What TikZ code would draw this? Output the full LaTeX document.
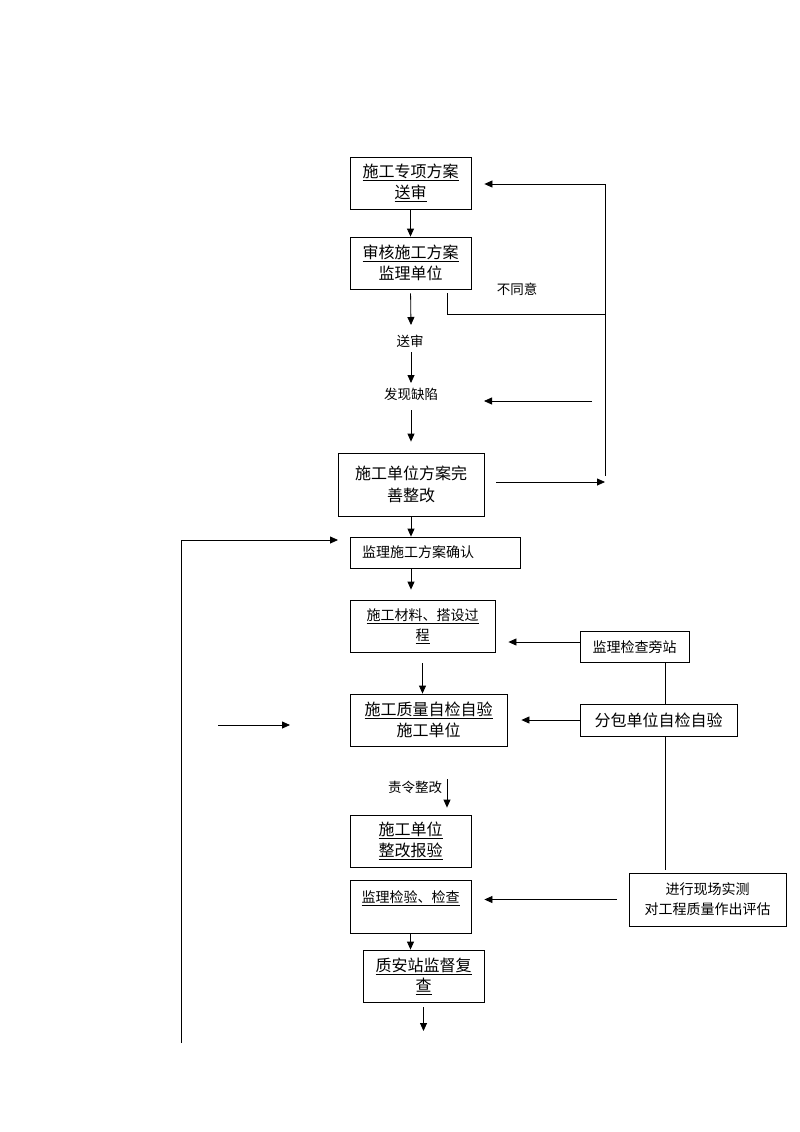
\documentclass[tikz,border=0pt]{standalone}
\usepackage{fontspec}
\setmainfont{Noto Sans CJK SC}
\usetikzlibrary{arrows.meta}
\begin{document}
\begin{tikzpicture}[x=1pt,y=-1pt,
  box/.style={draw,line width=0.8pt,rectangle,inner sep=0pt,align=center,
    font=\fontsize{16}{20.5}\selectfont},
  sbox/.style={box,font=\fontsize{14}{20}\selectfont},
  lbl/.style={inner sep=0pt,font=\fontsize{13.5}{16}\selectfont},
  arr/.style={line width=0.8pt,-{Triangle[length=8pt,width=7pt]}},
  ln/.style={line width=0.8pt}]
\useasboundingbox (0,0) rectangle (800,1132);
% boxes
\node[box,minimum width=121,minimum height=52] (b1) at (410.5,183) {\underline{施工专项方案}\\\underline{送审}};
\node[box,minimum width=121,minimum height=52] (b2) at (410.5,263) {\underline{审核施工方案}\\监理单位};
\node[box,minimum width=146,minimum height=63,font=\fontsize{16}{22}\selectfont] (b3) at (411,484.5) {施工单位方案完\\善整改};
\node[sbox,minimum width=170,minimum height=31,text width=146,align=left,inner xsep=12pt] (b4) at (435,552.5) {监理施工方案确认};
\node[sbox,minimum width=145,minimum height=52] (b5) at (422.5,626) {\underline{施工材料、搭设过}\\\underline{程}};
\node[box,minimum width=157,minimum height=52] (b6) at (428.5,720) {\underline{施工质量自检自验}\\施工单位};
\node[box,minimum width=157,minimum height=32] (b7) at (658.5,720) {分包单位自检自验};
\node[sbox,minimum width=109,minimum height=31] (b8) at (634.5,647) {监理检查旁站};
\node[sbox,minimum width=157,minimum height=53] (b9) at (707.5,899.5) {进行现场实测\\对工程质量作出评估};
\node[box,minimum width=121,minimum height=52] (b10) at (410.5,841) {\underline{施工单位}\\\underline{整改报验}};
\node[sbox,minimum width=121,minimum height=53] (b11) at (410.5,906.5) {\underline{监理检验、检查}\\\mbox{}};
\node[box,minimum width=121,minimum height=52] (b12) at (423.5,976) {\underline{质安站监督复}\\\underline{查}};
% labels
\node[lbl] (t1) at (410,341) {送审};
\node[lbl] (t2) at (411,394) {发现缺陷};
\node[lbl] (t3) at (517,289) {不同意};
\node[lbl] (t4) at (415,787) {责令整改};
% helper coordinates
\coordinate (vx) at (665,0);
\coordinate (rx) at (605,0);
\coordinate (a1) at (411,325);
\coordinate (a2) at (411,352);
\coordinate (a3) at (411,383);
\coordinate (a4) at (411,410);
\coordinate (ls) at (218,725);
\coordinate (le) at (290,725);
\coordinate (c1) at (447,779);
\coordinate (e1) at (423.5,1031);
\coordinate (l1) at (181,1043);
\coordinate (l2) at (338,540);
\coordinate (r0) at (447,293);
\coordinate (r1) at (605,314);
\coordinate (rt) at (605,184);
\coordinate (rb) at (605,476);
\coordinate (d1) at (592,401);
\coordinate (d2) at (484,401);
% main chain
\draw[arr] (b1.south) -- (b2.north);
\draw[arr,shorten <=4pt] (b2.south) -- (a1);
\draw[arr] (a2) -- (a3);
\draw[arr,shorten >=11pt] (a4) -- (b3.north);
\draw[arr] (b3.south) -- (b3.south |- b4.north);
\draw[arr,shorten >=10pt] (b3.south |- b4.south) -- (b3.south |- b5.north);
\draw[arr,shorten <=11pt] (b5.south) -- (b5.south |- b6.north);
\draw[arr] (ls) -- (le);
\draw[arr,shorten >=14pt] (b7.west) -- (b7.west -| b6.east);
\draw[arr,shorten >=13pt] ([yshift=5pt]b8.west) -- ([yshift=5pt]b8.west -| b5.east);
\draw[ln] (vx |- b8.south) -- (vx |- b7.north);
\draw[ln,shorten >=3pt] (vx |- b7.south) -- (vx |- b9.north);
\draw[arr,shorten <=12pt,shorten >=13pt] (b9.west) -- (b9.west -| b11.east);
\draw[arr,shorten >=7pt] (c1) -- (c1 |- b10.north);
\draw[arr] (b11.south) -- (b11.south |- b12.north);
\draw[arr,shorten <=5pt] (b12.south) -- (e1);
% left loop
\draw[arr] (l1) |- (l2);
% right loop
\draw[ln] (r0) |- (r1);
\draw[ln] (rt) -- (rb);
\draw[arr,shorten >=13pt] (rt) -- (rt -| b1.east);
\draw[arr,shorten <=12pt] (b3.east |- 0,482) -- (rx |- 0,482);
\draw[arr] (d1) -- (d2);
\end{tikzpicture}
\end{document}
